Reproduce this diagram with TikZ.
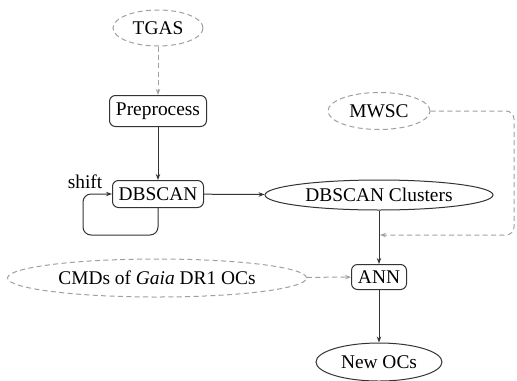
\documentclass[tikz,border=0pt]{standalone}
\usepackage{fontspec}
\setmainfont{Liberation Serif}
\usetikzlibrary{shapes.geometric,arrows.meta}
\begin{document}
\begin{tikzpicture}[x=0.5pt,y=-0.5pt,
  font=\fontsize{9.7}{11}\selectfont,
  tip/.style={-{Stealth[length=3pt,width=2.2pt]}},
  dashy/.style={dash pattern=on 2.5pt off 1.7pt},
  src/.style={ellipse,draw=gray!75,dashy,line width=0.5pt,inner sep=0pt},
  ell/.style={ellipse,draw=black!80,line width=0.5pt,inner sep=0pt},
  box/.style={rectangle,rounded corners=3pt,draw=black!80,line width=0.5pt,inner sep=0pt},
  solidline/.style={draw=black!80,line width=0.5pt,tip},
  dashline/.style={draw=gray!75,dashy,line width=0.5pt,tip}]
\useasboundingbox (0,0) rectangle (517,380);
\node[src,minimum width=45pt,minimum height=18pt] (tgas) at (158,28) {TGAS};
\node[box,minimum width=48.5pt,minimum height=15.5pt] (pre) at (158,111) {Preprocess};
\node[box,minimum width=45.5pt,minimum height=13.5pt] (db) at (158,194) {DBSCAN};
\node[src,minimum width=51pt,minimum height=18.5pt] (mwsc) at (379,111) {MWSC};
\node[ell,minimum width=114pt,minimum height=15pt] (clu) at (379,195) {DBSCAN Clusters};
\node[box,minimum width=27.5pt,minimum height=12.5pt] (ann) at (379,277) {ANN};
\node[src,minimum width=149.5pt,minimum height=19pt] (cmd) at (157,278) {CMDs of \textit{Gaia} DR1 OCs};
\node[ell,minimum width=63pt,minimum height=19pt] (new) at (379,362) {New OCs};
\node (shiftlbl) at (85,182) {shift};
\coordinate (mend) at (380,235);
\draw[dashline] (tgas) -- (pre);
\draw[solidline] (pre) -- (db);
\draw[solidline] (db) -- (clu);
\draw[solidline] (clu) -- (ann);
\draw[solidline] (ann) -- (new);
\draw[dashline] (cmd) -- (ann);
\draw[solidline,rounded corners=4pt] (db.south) -- (158,235) -- (83,235) -- (83,194) -- (db.west);
\draw[dashline,rounded corners=4pt] (mwsc.east) -- (514,111) -- (514,235) -- (mend);
\end{tikzpicture}
\end{document}
